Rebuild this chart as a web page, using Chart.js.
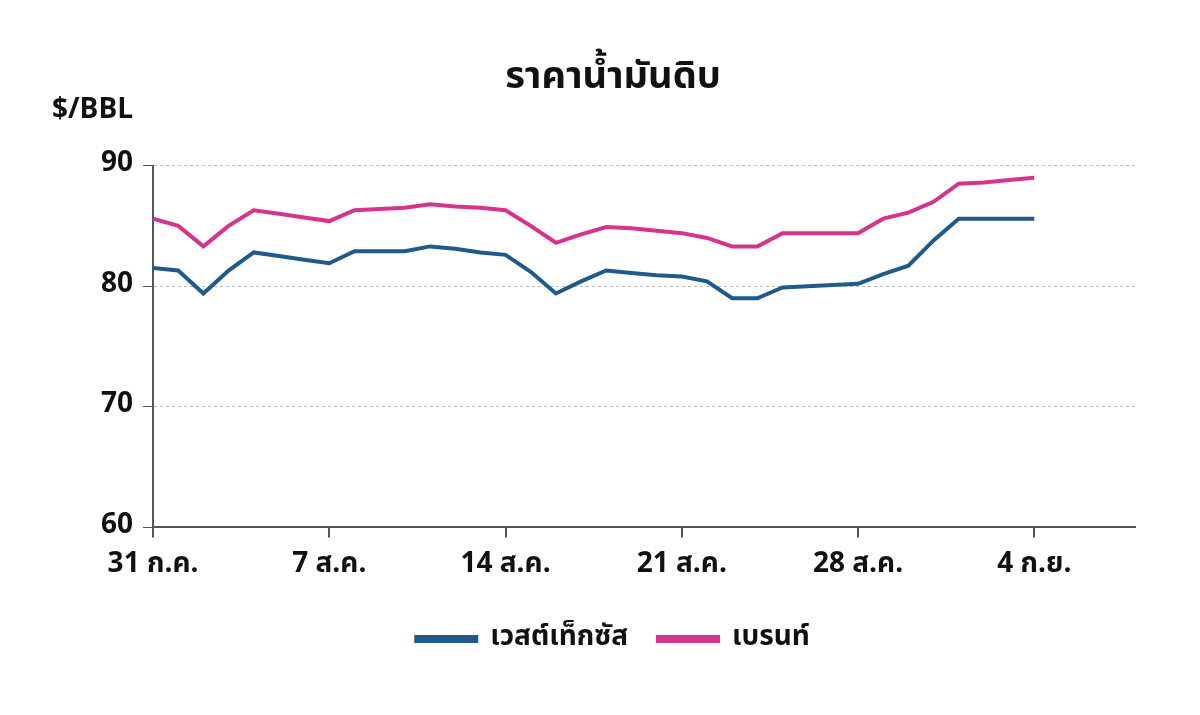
<!DOCTYPE html>
<html>
<head>
<meta charset="utf-8">
<script src="https://cdn.jsdelivr.net/npm/chart.js@4"></script>
<style>
  body { margin: 0; background: #fff; }
  #wrap { width: 1200px; height: 715px; }
</style>
</head>
<body>
<div id="wrap"><canvas id="oil"></canvas></div>
<script>
// days since 31 Jul
const days = [0,1,2,3,4,5,6,7,8,9,10,11,12,13,14,15,16,17,18,19,20,21,22,23,24,25,26,27,28,29,30,31,32,33,34,35];
const wti = [81.5,81.3,79.4,81.3,82.8,82.5,82.2,81.9,82.9,82.9,82.9,83.3,83.1,82.8,82.6,81.2,79.4,80.4,81.3,81.1,80.9,80.8,80.4,79.0,79.0,79.9,80.0,80.1,80.2,81.0,81.7,83.8,85.6,85.6,85.6,85.6];
const brent = [85.6,85.0,83.3,85.0,86.3,86.0,85.7,85.4,86.3,86.4,86.5,86.8,86.6,86.5,86.3,85.0,83.6,84.3,84.9,84.8,84.6,84.4,84.0,83.3,83.3,84.4,84.4,84.4,84.4,85.6,86.1,87.0,88.5,88.6,88.8,89.0];
const tickLabels = ['31 ก.ค.', '7 ส.ค.', '14 ส.ค.', '21 ส.ค.', '28 ส.ค.', '4 ก.ย.'];

const font = '"Noto Sans Thai", "Noto Sans", "DejaVu Sans", sans-serif';

//draw the unit label above the axis
const unitLabel = {
  id: 'unitLabel',
  afterDraw(chart) {
    const c = chart.ctx;
    c.save();
    c.font = 'bold 28px ' + font;
    c.fillStyle = '#111';
    c.textBaseline = 'middle';
    c.fillText('$/BBL', 52, 112);
    c.restore();
  }
};

new Chart(document.getElementById('oil'), {
  type: 'line',
  data: {
    datasets: [
      { label: 'เวสต์เท็กซัส', data: days.map((d, i) => ({ x: d, y: wti[i] })), borderColor: '#1f5a8a', backgroundColor: '#1f5a8a', borderWidth: 4, pointRadius: 0, tension: 0 },
      { label: 'เบรนท์', data: days.map((d, i) => ({ x: d, y: brent[i] })), borderColor: '#d6338a', backgroundColor: '#d6338a', borderWidth: 4, pointRadius: 0, tension: 0 }
    ]
  },
  options: {
    responsive: true,
    maintainAspectRatio: false,
    animation: false,
    layout: { padding: { left: 91, right: 65, top: 10, bottom: 52 } },
    plugins: {
      title: { display: true, text: 'ราคาน้ำมันดิบ', color: '#111', font: { family: font, size: 38, weight: 'bold' }, padding: { top: 48, bottom: 62 } },
      legend: { position: 'bottom', labels: { color: '#111', font: { family: font, size: 28, weight: 'bold' }, boxWidth: 60, boxHeight: 4, padding: 30 } },
      tooltip: { enabled: false }
    },
    scales: {
      x: {
        type: 'linear', min: 0, max: 39,
        grid: { display: true, drawOnChartArea: false, drawTicks: true, tickLength: 10, tickColor: '#555', lineWidth: 2 },
        border: { color: '#555', width: 2 },
        afterBuildTicks: (ax) => { ax.ticks = tickLabels.map((t, i) => ({ value: i * 7 })); },
        ticks: { color: '#111', font: { family: font, size: 28, weight: 'bold' }, padding: 12, maxRotation: 0, callback: (v) => tickLabels[v / 7] }
      },
      y: {
        min: 60, max: 90,
        grid: { color: '#bbb', drawTicks: true, tickLength: 10, tickColor: '#555' },
        border: { color: '#555', width: 2, dash: [3, 3] },
        ticks: { stepSize: 10, color: '#111', font: { family: font, size: 28, weight: 'bold' }, padding: 10 }
      }
    }
  },
  plugins: [unitLabel]
});
</script>
</body>
</html>
